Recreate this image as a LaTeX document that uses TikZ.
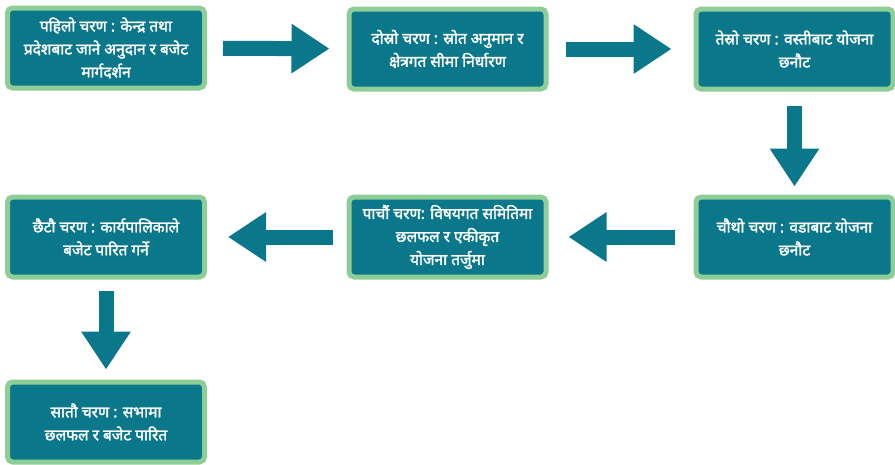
\documentclass[tikz,border=0pt]{standalone}
\usepackage{fontspec}
\newfontfamily\devfont[Script=Devanagari,FakeBold=2]{Noto Sans}
\usepackage{xcolor}
\usepackage{tikz}
\usetikzlibrary{arrows.meta}

\definecolor{stepteal}{HTML}{0B778B}
\definecolor{stepgreen}{HTML}{8FCD96}

\tikzset{
  stepbox/.style={draw=stepgreen, line width=5pt, fill=stepteal,
    rounded corners=5pt, minimum width=197pt, minimum height=80pt,
    text=white, align=center, font=\devfont\fontsize{15.5}{23}\selectfont},
  flow/.style={draw=stepteal, line width=15pt,
    -{Triangle[length=38pt,width=47pt]}}
}

\begin{document}
\begin{tikzpicture}[x=1pt,y=-1pt]
  \useasboundingbox (0,0) rectangle (895,464);

  \node[stepbox] (first) at (106,48) {पहिलो चरण : केन्द्र तथा\\ प्रदेशबाट जाने अनुदान र बजेट\\ मार्गदर्शन};
  \node[stepbox] (second) at (447.5,49) {दोस्रो चरण : स्रोत अनुमान र\\ क्षेत्रगत सीमा निर्धारण};
  \node[stepbox] (third) at (794.5,49) {तेस्रो चरण : वस्तीबाट योजना\\ छनौट};
  \node[stepbox] (fourth) at (794.5,237) {चौथो चरण : वडाबाट योजना\\ छनौट};
  \node[stepbox] (fifth) at (447.5,237) {पाचौं चरण: विषयगत समितिमा\\ छलफल र एकीकृत\\ योजना तर्जुमा};
  \node[stepbox] (sixth) at (106,237) {छैटौ चरण : कार्यपालिकाले\\ बजेट पारित गर्ने};
  \node[stepbox] (seventh) at (106,422) {सातौ चरण : सभामा\\ छलफल र बजेट पारित};

  \draw[flow, shorten <=16pt, shorten >=17pt] (first) -- (second);
  \draw[flow, shorten <=17pt, shorten >=22pt] (second) -- (third);
  \draw[flow, shorten <=14pt, shorten >=8pt] (third) -- (fourth);
  \draw[flow, shorten <=19pt, shorten >=20pt] (fourth) -- (fifth);
  \draw[flow, shorten <=14pt, shorten >=21pt] (fifth) -- (sixth);
  \draw[flow, shorten <=11pt, shorten >=10pt] (sixth) -- (seventh);
\end{tikzpicture}
\end{document}
